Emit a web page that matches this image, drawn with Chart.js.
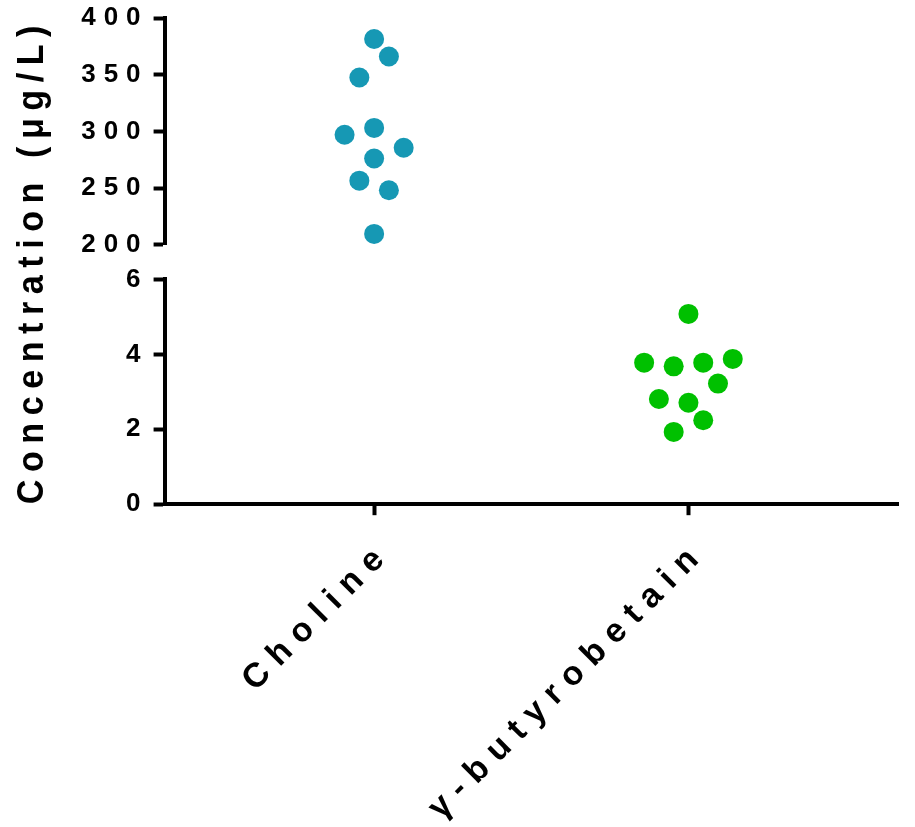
<!DOCTYPE html>
<html>
<head>
<meta charset="utf-8">
<script src="https://cdn.jsdelivr.net/npm/chart.js@4"></script>
<style>
  body { margin: 0; background: #fff; }
  canvas { display: block; }
</style>
</head>
<body>
<canvas id="chart" width="915" height="827"></canvas>
<script>
// groups on the x axis
const categories = ['Choline', 'γ-butyrobetain']

// choline, upper axis segment (µg/L)
const cholineValues = [381.5, 366, 347.5, 297, 303, 285.5, 276, 256.5, 248, 209.5]
const cholineJitter = [0, 1, -1, -2, 0, 2, 0, -1, 1, 0]

// gamma-butyrobetain, lower axis segment (µg/L)
const butyroValues = [5.08, 3.78, 3.68, 3.78, 3.88, 3.22, 2.81, 2.71, 2.24, 1.93]
const butyroJitter = [0, -3, -1, 1, 3, 2, -2, 0, 1, -1]

const topTicks = [200, 250, 300, 350, 400]
const bottomTicks = [0, 2, 4, 6]

const jitterStep = 0.047
const black = '#000'

function toPoints(values, jitter, cat) {
    return values.map((v, i) => ({ x: cat + 1 + jitter[i] * jitterStep, y: v }))
}

// linear scale whose labels get their own canvas letterSpacing
class SpacedScale extends Chart.LinearScale {
    spaced(fn) {
        const c = this.ctx
        const prev = c.letterSpacing
        c.letterSpacing = (this.options.spacing || 0) + 'px'
        const r = fn()
        c.letterSpacing = prev
        return r
    }
    update(a, b, m) { return this.spaced(() => super.update(a, b, m)) }
    drawLabels(area) { this.spaced(() => super.drawLabels(area)) }
}
SpacedScale.id = 'spaced'
SpacedScale.defaults = Chart.LinearScale.defaults
Chart.register(SpacedScale)

// spacing for the axis title (title plugin)
const titleSpacing = {
    id: 'titleSpacing',
    beforeUpdate(chart) { chart.ctx.letterSpacing = '8px' },
    beforeDraw(chart) { chart.ctx.letterSpacing = '8px' }
}

function initChart() {
    const ctx = document.getElementById('chart').getContext('2d');
    Chart.defaults.font.family = '"Liberation Sans", Arial, sans-serif'
    Chart.defaults.font.weight = 'bold'
    Chart.defaults.color = black

    const yAxis = (min, max, ticks, weight) => ({
        type: 'spaced',
        spacing: 8,
        position: 'left',
        stack: 'conc',
        stackWeight: weight,
        min: min,
        max: max,
        afterBuildTicks: s => { s.ticks = ticks.map(v => ({ value: v })) },
        border: { display: true, color: black, width: 4 },
        grid: { drawOnChartArea: false, drawTicks: true, tickLength: 11, tickWidth: 4, tickColor: black },
        ticks: { font: { size: 26, weight: 'bold', lineHeight: 1.0 }, padding: 5, color: black }
    })

    new Chart(ctx, {
        type: 'scatter',
        data: {
            datasets: [{
                label: categories[0],
                data: toPoints(cholineValues, cholineJitter, 0),
                yAxisID: 'yTop',
                backgroundColor: '#1698B4',
                borderWidth: 0,
                pointRadius: 10,
                clip: false
            }, {
                label: categories[1],
                data: toPoints(butyroValues, butyroJitter, 1),
                yAxisID: 'yBottom',
                backgroundColor: '#00C000',
                borderWidth: 0,
                pointRadius: 10,
                clip: false
            }]
        },
        options: {
            responsive: false,
            animation: false,
            layout: { padding: { top: -1, right: 17, left: 11, bottom: -19 } },
            plugins: {
                legend: { display: false },
                tooltip: { enabled: false },
                title: {
                    display: true,
                    position: 'left',
                    fullSize: false,
                    text: 'Concentration (μg/L)',
                    color: black,
                    font: { size: 36, weight: 'bold' },
                    padding: { top: 0, bottom: 22 }
                }
            },
            scales: {
                x: {
                    type: 'spaced',
                    spacing: 10,
                    position: 'bottom',
                    min: 1 / 3,
                    max: 8 / 3,
                    afterBuildTicks: s => { s.ticks = categories.map((c, i) => ({ value: i + 1 })) },
                    border: { display: true, color: black, width: 4 },
                    grid: { drawOnChartArea: false, drawTicks: true, tickLength: 11, tickWidth: 4, tickColor: black },
                    ticks: {
                        font: { size: 34, weight: 'bold' },
                        color: black,
                        minRotation: 45,
                        maxRotation: 45,
                        padding: 18,
                        labelOffset: 12,
                        callback: v => categories[v - 1]
                    }
                },
                // defined bottom-up: stacked left axes are laid out last-first from the top
                yBottom: yAxis(0, 6, bottomTicks, 226),
                yGap: {
                    type: 'linear',
                    position: 'left',
                    stack: 'conc',
                    stackWeight: 35,
                    min: 0,
                    max: 1,
                    border: { display: false },
                    grid: { display: false },
                    ticks: { display: false }
                },
                yTop: yAxis(200, 400, topTicks, 228)
            }
        },
        plugins: [titleSpacing]
    });
}

initChart()
</script>
</body>
</html>
